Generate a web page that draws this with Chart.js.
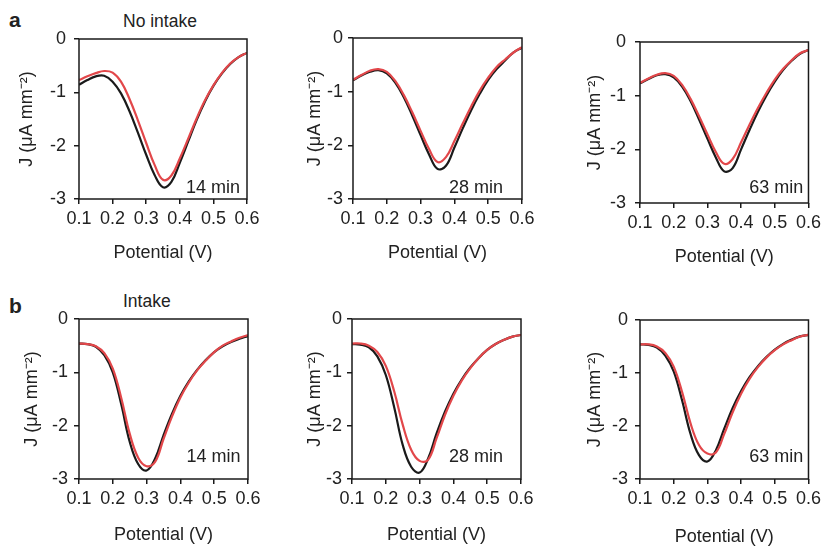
<!DOCTYPE html>
<html>
<head>
<meta charset="utf-8">
<script src="https://cdn.jsdelivr.net/npm/chart.js@4.4.1/dist/chart.umd.min.js"></script>
<style>
  body { margin: 0; background: #fff; width: 825px; height: 546px; position: relative; overflow: hidden; color: #222;
         font-family: "Liberation Sans", Arial, sans-serif; }
  canvas { position: absolute; }
  .lbl { position: absolute; white-space: nowrap; }
  .letter { font-weight: bold; font-size: 21px; line-height: 21px; }
  .head { font-size: 17.5px; line-height: 17px; }
</style>
</head>
<body>
<div class="lbl letter" style="left:9px;top:9px">a</div>
<div class="lbl head" style="left:123px;top:13px">No intake</div>
<div class="lbl letter" style="left:9px;top:295px">b</div>
<div class="lbl head" style="left:123px;top:293px">Intake</div>

<canvas id="p1"></canvas>
<canvas id="p2"></canvas>
<canvas id="p3"></canvas>
<canvas id="p4"></canvas>
<canvas id="p5"></canvas>
<canvas id="p6"></canvas>

<script>
// potential (V), shared by every panel
const potential = [0.1, 0.125, 0.15, 0.175, 0.2, 0.225, 0.25, 0.275, 0.3, 0.325, 0.35,
  0.375, 0.4, 0.425, 0.45, 0.475, 0.5, 0.525, 0.55, 0.575, 0.6];

// J (uA mm-2), panel a = no intake
const noIntake14Black = [-0.86, -0.77, -0.70, -0.69, -0.80, -1.02, -1.35, -1.75, -2.17, -2.55, -2.78,
  -2.68, -2.32, -1.92, -1.52, -1.17, -0.88, -0.65, -0.47, -0.34, -0.26];
const noIntake14Red = [-0.77, -0.70, -0.64, -0.60, -0.63, -0.80, -1.12, -1.52, -1.95, -2.36, -2.64,
  -2.56, -2.24, -1.87, -1.49, -1.15, -0.87, -0.64, -0.46, -0.34, -0.26];
const noIntake28Black = [-0.79, -0.70, -0.63, -0.60, -0.66, -0.83, -1.10, -1.44, -1.81, -2.17, -2.44,
  -2.38, -2.04, -1.68, -1.34, -1.04, -0.78, -0.58, -0.42, -0.27, -0.18];
const noIntake28Red = [-0.78, -0.69, -0.61, -0.58, -0.63, -0.80, -1.06, -1.38, -1.73, -2.07, -2.31,
  -2.22, -1.92, -1.59, -1.27, -0.98, -0.74, -0.54, -0.40, -0.27, -0.17];
const noIntake63Black = [-0.77, -0.69, -0.62, -0.60, -0.66, -0.83, -1.10, -1.44, -1.80, -2.15, -2.41,
  -2.35, -2.00, -1.64, -1.30, -1.00, -0.74, -0.52, -0.35, -0.22, -0.15];
const noIntake63Red = [-0.76, -0.68, -0.61, -0.58, -0.63, -0.80, -1.06, -1.38, -1.72, -2.05, -2.27,
  -2.18, -1.87, -1.54, -1.23, -0.95, -0.70, -0.50, -0.34, -0.21, -0.15];

// panel b = intake
const intake14Black = [-0.46, -0.47, -0.52, -0.68, -1.00, -1.60, -2.30, -2.72, -2.84, -2.62, -2.18,
  -1.78, -1.44, -1.17, -0.95, -0.77, -0.62, -0.51, -0.43, -0.37, -0.32];
const intake14Red = [-0.46, -0.47, -0.51, -0.64, -0.93, -1.48, -2.15, -2.60, -2.76, -2.68, -2.25,
  -1.83, -1.47, -1.19, -0.96, -0.78, -0.62, -0.50, -0.42, -0.35, -0.30];
const intake28Black = [-0.47, -0.48, -0.53, -0.70, -1.05, -1.66, -2.36, -2.77, -2.88, -2.62, -2.15,
  -1.74, -1.40, -1.13, -0.91, -0.73, -0.58, -0.47, -0.39, -0.33, -0.30];
const intake28Red = [-0.46, -0.46, -0.50, -0.62, -0.88, -1.36, -1.98, -2.45, -2.66, -2.64, -2.24,
  -1.80, -1.44, -1.15, -0.92, -0.73, -0.58, -0.47, -0.39, -0.33, -0.30];
const intake63Black = [-0.46, -0.47, -0.52, -0.67, -0.97, -1.52, -2.15, -2.55, -2.67, -2.46, -2.05,
  -1.66, -1.34, -1.08, -0.87, -0.70, -0.56, -0.45, -0.37, -0.31, -0.28];
const intake63Red = [-0.46, -0.46, -0.50, -0.62, -0.88, -1.36, -1.95, -2.36, -2.52, -2.50, -2.15,
  -1.74, -1.39, -1.11, -0.89, -0.71, -0.57, -0.46, -0.38, -0.31, -0.28];

const timeLabels = ['14 min', '28 min', '63 min'];
const xTicks = [0.1, 0.2, 0.3, 0.4, 0.5, 0.6];
const yTicks = [-3, -2, -1, 0];

const BLACK = '#1a1a1a';
const RED = '#e2474a';
const FONT = '"Liberation Sans", Arial, sans-serif';
const FS = 18;

Chart.defaults.font.family = FONT;
Chart.defaults.font.size = FS;
Chart.defaults.color = '#222';

// canvas box + wanted plot area (page px), and where the axis titles sit
const panels = [
  { id: 'p1', black: noIntake14Black, red: noIntake14Red, time: timeLabels[0], tx: 0.499, ty: -2.79,
    cv: [0, 0, 275, 270], area: [79, 39, 247, 199], yTitleX: 27, xTitleY: 253, yPad: 8 },
  { id: 'p2', black: noIntake28Black, red: noIntake28Red, time: timeLabels[1], tx: 0.464, ty: -2.80,
    cv: [275, 0, 275, 270], area: [353, 38, 522, 199], yTitleX: 315, xTitleY: 253, yPad: 5 },
  { id: 'p3', black: noIntake63Black, red: noIntake63Red, time: timeLabels[2], tx: 0.504, ty: -2.72,
    cv: [550, 0, 275, 275], area: [640, 42, 809, 203], yTitleX: 595, xTitleY: 257, yPad: 9 },
  { id: 'p4', black: intake14Black, red: intake14Red, time: timeLabels[0], tx: 0.498, ty: -2.59,
    cv: [0, 275, 275, 271], area: [79, 319, 248, 479], yTitleX: 32, xTitleY: 535, yPad: 6 },
  { id: 'p5', black: intake28Black, red: intake28Red, time: timeLabels[1], tx: 0.467, ty: -2.59,
    cv: [275, 275, 275, 271], area: [352, 319, 521, 479], yTitleX: 315, xTitleY: 535, yPad: 5 },
  { id: 'p6', black: intake63Black, red: intake63Red, time: timeLabels[2], tx: 0.504, ty: -2.58,
    cv: [550, 275, 275, 271], area: [640, 320, 809, 479], yTitleX: 595, xTitleY: 537, yPad: 7 },
];

// closed frame round the plot
const framePlugin = {
  id: 'frame',
  afterDatasetsDraw(chart) {
    const { ctx, chartArea: a } = chart;
    ctx.save();
    ctx.strokeStyle = BLACK;
    ctx.lineWidth = 1.5;
    ctx.strokeRect(a.left, a.top, a.right - a.left, a.bottom - a.top);
    ctx.restore();
  }
};

// "14 min" etc, placed in data units
const timePlugin = {
  id: 'timeLabel',
  afterDraw(chart, args, opts) {
    const { ctx, scales } = chart;
    ctx.save();
    ctx.font = FS + 'px ' + FONT;
    ctx.fillStyle = '#222';
    ctx.textAlign = 'center';
    ctx.textBaseline = 'middle';
    ctx.fillText(opts.text, scales.x.getPixelForValue(opts.x), scales.y.getPixelForValue(opts.y));
    ctx.restore();
  }
};

const toPoints = (ys) => potential.map((x, i) => ({ x, y: ys[i] }));

const makePanel = (p) => {
  const canvas = document.getElementById(p.id);
  const [cl, ct, cw, ch] = p.cv;
  const [al, at, ar, ab] = p.area;
  canvas.width = cw;
  canvas.height = ch;
  canvas.style.left = cl + 'px';
  canvas.style.top = ct + 'px';
  const lh = FS * 1.2 / 2;

  new Chart(canvas, {
    type: 'line',
    data: {
      datasets: [
        { label: 'red', data: toPoints(p.red), borderColor: RED, borderWidth: 2.2, order: 0 },
        { label: 'black', data: toPoints(p.black), borderColor: BLACK, borderWidth: 2.2, order: 1 },
      ],
    },
    options: {
      responsive: false,
      animation: false,
      events: [],
      layout: { padding: { left: 0, bottom: 0, top: at - ct, right: cl + cw - ar } },
      elements: {
        point: { radius: 0 },
        line: { tension: 0.4, fill: false },
      },
      plugins: {
        legend: { display: false },
        tooltip: { enabled: false },
        timeLabel: { text: p.time, x: p.tx, y: p.ty },
      },
      scales: {
        x: {
          type: 'linear',
          min: xTicks[0],
          max: xTicks[xTicks.length - 1],
          afterBuildTicks: (s) => { s.ticks = xTicks.map((v) => ({ value: v })); },
          afterFit: (s) => { s.height = ct + ch - ab; },
          ticks: { padding: 4, maxRotation: 0, callback: (v) => v.toFixed(1) },
          grid: { drawOnChartArea: false, drawTicks: true, tickLength: 5, color: BLACK, lineWidth: 1.5 },
          border: { display: false },
          title: {
            display: true, text: 'Potential (V)',
            padding: { top: 0, bottom: ct + ch - p.xTitleY - lh },
          },
        },
        y: {
          type: 'linear',
          min: yTicks[0],
          max: yTicks[yTicks.length - 1],
          afterBuildTicks: (s) => { s.ticks = yTicks.map((v) => ({ value: v })); },
          afterFit: (s) => { s.width = al - cl; },
          ticks: { padding: p.yPad, callback: (v) => String(v) },
          grid: { drawOnChartArea: false, drawTicks: true, tickLength: 5, color: BLACK, lineWidth: 1.5 },
          border: { display: false },
          title: {
            display: true, text: 'J (μA mm⁻²)',
            padding: { top: p.yTitleX - cl - lh, bottom: 0 },
          },
        },
      },
    },
    plugins: [framePlugin, timePlugin],
  });
};

panels.forEach(makePanel);
</script>
</body>
</html>
